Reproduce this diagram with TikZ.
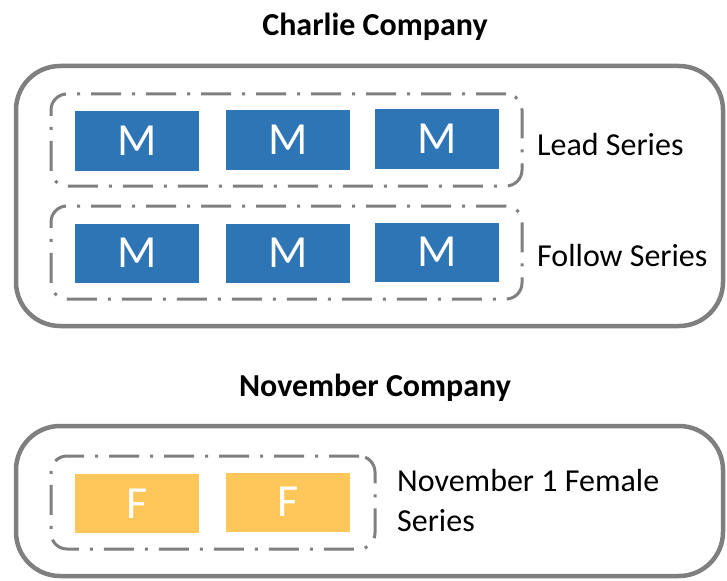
\documentclass[tikz,border=0pt]{standalone}
\usepackage{fontspec}
\setmainfont{Carlito}
\definecolor{framegray}{HTML}{7F7F7F}
\definecolor{mblue}{HTML}{2E75B6}
\definecolor{fyellow}{HTML}{FFC65A}
\begin{document}
\begin{tikzpicture}[x=1pt,y=-1pt,
  outerbox/.style={draw=framegray, line width=4.5pt, rounded corners=44pt, inner sep=0pt},
  grpbox/.style={draw=framegray, line width=3pt, rounded corners=16pt, inner sep=0pt,
    dash pattern=on 30pt off 11pt on 3pt off 11pt},
  unitbox/.style={minimum width=124pt, minimum height=59pt, inner sep=0pt, text=white,
    font=\fontsize{46}{46}\selectfont},
  mbox/.style={unitbox, fill=mblue},
  fbox/.style={unitbox, fill=fyellow},
  title/.style={font=\fontsize{32}{32}\selectfont\bfseries, text=black},
  label/.style={font=\fontsize{32}{40}\selectfont, text=black, anchor=west, align=left, inner sep=0pt}]
\useasboundingbox (0,0) rectangle (727,580);
% titles
\node[title] (tc) at (375,27) {Charlie Company};
\node[title] (tn) at (375,388) {November Company};
% outer boxes
\node[outerbox, minimum width=707pt, minimum height=260pt] (charlie) at (369.5,196) {};
\node[outerbox, minimum width=707pt, minimum height=150pt] (november) at (369.5,501) {};
% group boxes
\node[grpbox, minimum width=471pt, minimum height=92pt] (lead) at (286.5,140) {};
\node[grpbox, minimum width=471pt, minimum height=93pt] (follow) at (286.5,252.5) {};
\node[grpbox, minimum width=324pt, minimum height=93pt] (female) at (213,502.5) {};
% units
\node[mbox] (m1) at (137,141) {M};
\node[mbox] (m2) at (288,140) {M};
\node[mbox] (m3) at (437,139) {M};
\node[mbox] (m4) at (137,253) {M};
\node[mbox] (m5) at (288,253) {M};
\node[mbox] (m6) at (437,252) {M};
\node[fbox] (f1) at (137,503.5) {F};
\node[fbox] (f2) at (288,502) {F};
% labels
\node[label] (ll) at (537,145) {Lead Series};
\node[label] (lf) at (537,256) {Follow Series};
\node[label] (lfe) at (397,501) {November 1 Female\\Series};
\end{tikzpicture}
\end{document}
